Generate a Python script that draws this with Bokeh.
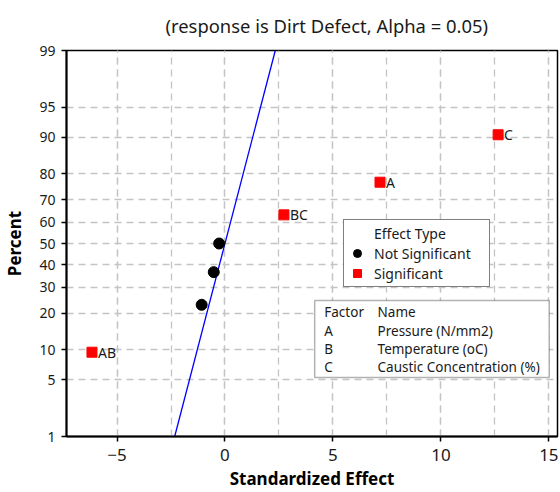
from statistics import NormalDist
from bokeh.plotting import figure
from bokeh.models import (FixedTicker, Legend, LegendItem, Label, BoxAnnotation,
                          Title, ColumnDataSource, Range1d)
from bokeh.embed import file_html
from bokeh.resources import INLINE
from bokeh.core.properties import value

# ---------------- data ----------------
sig_terms = ["AB", "BC", "A", "C"]
sig_effects = [-6.16, 2.73, 7.18, 12.65]
sig_percent = [9.5, 63.5, 77.0, 90.5]

ns_effects = [-1.08, -0.52, -0.27]
ns_percent = [23.0, 36.5, 50.0]

fit_effects = [-2.33, 2.33]
fit_percent = [1, 99]

y_tick_percents = [1, 5, 10, 20, 30, 40, 50, 60, 70, 80, 90, 95, 99]
x_ticks = [-5, 0, 5, 10, 15]
x_grid = [-5, -2.5, 0, 2.5, 5, 7.5, 10, 12.5, 15]

factor_codes = ["A", "B", "C"]
factor_names = ["Pressure (N/mm2)", "Temperature (oC)", "Caustic Concentration (%)"]

title_text = "(response is Dirt Defect, Alpha = 0.05)"

# ---------------- helpers ----------------
ND = NormalDist()
def probit(pct):
    return ND.inv_cdf(pct / 100.0)

FONT = "Noto Sans"
W, H = 560, 492
BL, BR, BT, BB = 65, 3, 50, 56
FW, FH = W - BL - BR, H - BT - BB
XMIN, XMAX = -7.34, 15.40
YMIN, YMAX = probit(1), probit(99)

def dx(px):
    return XMIN + (px - BL) * (XMAX - XMIN) / FW

def dy(py):
    return YMAX - (py - BT) * (YMAX - YMIN) / FH

p = figure(width=W, height=H, output_backend="svg", toolbar_location=None,
           x_range=Range1d(XMIN, XMAX), y_range=Range1d(YMIN, YMAX),
           min_border_left=BL, min_border_right=BR, min_border_top=BT,
           min_border_bottom=BB, background_fill_color="white",
           border_fill_color="white")

p.title = Title(text=title_text, align="left", offset=99, standoff=22,
                vertical_align="top",
                text_font=FONT, text_font_size="18.4px", text_font_style="normal",
                text_color="#1a1a1a")

p.outline_line_color = "black"
p.outline_line_width = 1.5

# axes
p.xaxis.ticker = FixedTicker(ticks=x_ticks, minor_ticks=x_grid)
p.yaxis.ticker = FixedTicker(ticks=[probit(v) for v in y_tick_percents])
p.yaxis.major_label_overrides = {probit(v): str(v) for v in y_tick_percents}

for ax in (p.xaxis[0], p.yaxis[0]):
    ax.axis_line_width = 2
    ax.axis_line_color = "black"
    ax.major_tick_line_color = "black"
    ax.major_tick_line_width = 1.5
    ax.major_tick_in = 0
    ax.major_tick_out = 5
    ax.minor_tick_line_color = None
    ax.major_label_text_font = FONT
    ax.major_label_text_color = "#1a1a1a"
    ax.axis_label_text_font = FONT
    ax.axis_label_text_font_style = "bold"
    ax.axis_label_text_font_size = "17px"
    ax.axis_label_text_color = "black"

p.xaxis.axis_label = "Standardized Effect"
p.yaxis.axis_label = "Percent"
p.xaxis.major_label_text_font_size = "17px"
p.yaxis.major_label_text_font_size = "14px"
p.xaxis.major_label_standoff = 7
p.yaxis.major_label_standoff = 6
p.xaxis.axis_label_standoff = 3
p.yaxis.axis_label_standoff = 10

# grid
for g in (p.xgrid[0], p.ygrid[0]):
    g.grid_line_color = "#c4c4c4"
    g.grid_line_dash = "7 5"
    g.grid_line_width = 1.3
p.xgrid.minor_grid_line_color = "#c4c4c4"
p.xgrid.minor_grid_line_dash = "7 5"
p.xgrid.minor_grid_line_width = 1.3

# fitted line
p.line(x=fit_effects, y=[probit(v) for v in fit_percent], line_color="#0000ff",
       line_width=1.3)

# points
ns_src = ColumnDataSource(dict(x=ns_effects, y=[probit(v) for v in ns_percent]))
sig_src = ColumnDataSource(dict(x=sig_effects, y=[probit(v) for v in sig_percent],
                                t=sig_terms))
r_ns = p.scatter(x="x", y="y", source=ns_src, marker="circle", size=11,
                 fill_color="black", line_color="black")
r_sig = p.scatter(x="x", y="y", source=sig_src, marker="square", size=10,
                  fill_color="#ff0000", line_color="#ff0000")
p.text(x="x", y="y", text="t", source=sig_src, x_offset=6, y_offset=0,
       text_baseline="middle", text_align="left", text_font=value(FONT),
       text_font_size="14px", text_color="#1a1a1a")

r_title = p.scatter(x=[], y=[], marker="circle", fill_alpha=0, line_alpha=0)

legend = Legend(items=[LegendItem(label="Effect Type", renderers=[r_title]),
                       LegendItem(label="Not Significant", renderers=[r_ns]),
                       LegendItem(label="Significant", renderers=[r_sig])],
                location=(342 - BL, BT + FH - 287), orientation="vertical",
                padding=3, spacing=0, margin=0, glyph_width=20, glyph_height=20,
                label_height=20, label_width=112, label_standoff=7,
                label_text_font=FONT, label_text_font_size="14px",
                label_text_color="#1a1a1a",
                border_line_color="black", border_line_width=1.5,
                background_fill_color="white", background_fill_alpha=1.0)
p.add_layout(legend)

# factor table
p.add_layout(BoxAnnotation(left=dx(313.7), right=dx(548.7), top=dy(300), bottom=dy(377),
                           fill_color="white", fill_alpha=1.0, line_color="black",
                           line_width=1.5))
rows_y = [311.7, 330.0, 348.3, 366.7]
col_codes = ["Factor"] + factor_codes
col_names = ["Name"] + factor_names
for ry, c, n in zip(rows_y, col_codes, col_names):
    p.add_layout(Label(x=dx(323.3), y=dy(ry), text=c, text_baseline="middle",
                       text_font=FONT, text_font_size="13.5px", text_color="#1a1a1a"))
    p.add_layout(Label(x=dx(376.7), y=dy(ry), text=n, text_baseline="middle",
                       text_font=FONT, text_font_size="13.5px", text_color="#1a1a1a"))

open("out.html", "w").write(file_html(p, INLINE))
